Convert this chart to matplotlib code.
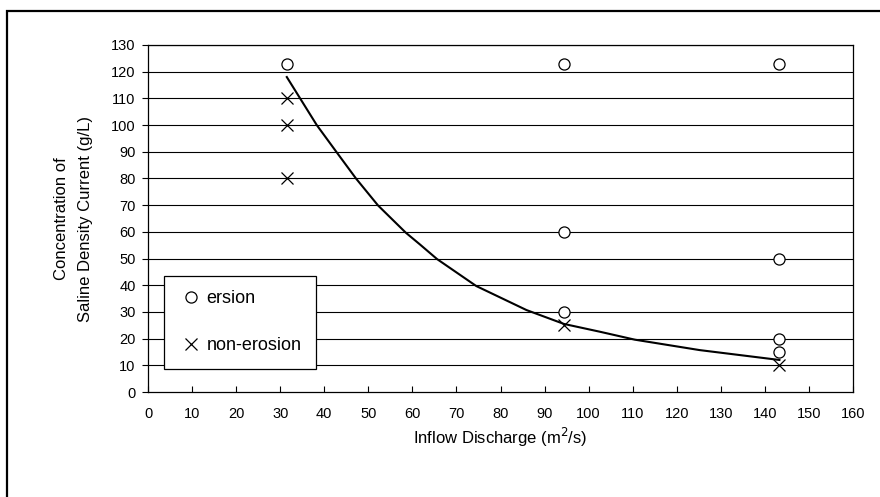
"""
    Saline density current: erosion / non-erosion vs inflow discharge.
"""
import matplotlib
matplotlib.use('Agg')
import matplotlib.pyplot as plt
from matplotlib.patches import Rectangle

plt.rcParams['font.family'] = ['Liberation Sans', 'DejaVu Sans']

# erosion points (open circles)
erosion_q = [31.5, 94.3, 94.3, 94.3, 143.3, 143.3, 143.3, 143.3]
erosion_c = [123, 123, 60, 30, 123, 50, 20, 15]

# non-erosion points (crosses)
nonerosion_q = [31.5, 31.5, 31.5, 94.3, 143.3]
nonerosion_c = [110, 100, 80, 25, 10]

# boundary curve
curve_q = [31.5, 38.3, 42.6, 47.2, 52.2, 58.5, 61.7, 65.6, 74.5, 85.9,
           94.4, 102.5, 110.5, 125.2, 143.3]
curve_c = [118, 100, 90.3, 80, 69.9, 59.7, 55.3, 49.8, 39.7, 30.7,
           25.5, 22.6, 19.6, 15.7, 12.0]

x_ticks = list(range(0, 161, 10))
y_ticks = list(range(0, 131, 10))

W, H = 880, 497
fig = plt.figure(figsize=(W / 100, H / 100), dpi=100)
ax = fig.add_axes([148 / W, 1 - 392 / H, (853 - 148) / W, (392 - 45) / H])

# outer frame (only left and top edges show)
fig.add_artist(Rectangle((7 / W, -0.2), 2, 1.2 - 11 / H, transform=fig.transFigure,
                         fill=False, lw=1.6, ec='black'))

for yv in y_ticks[1:]:
    ax.axhline(yv, color='black', lw=0.8, zorder=1)

ax.plot(curve_q, curve_c, color='black', lw=1.5, zorder=2)
ax.plot(erosion_q, erosion_c, 'o', mfc='white', mec='black', ms=8, mew=0.9,
        ls='none', label='ersion', zorder=3)
ax.plot(nonerosion_q, nonerosion_c, 'x', color='black', ms=9, mew=0.9,
        ls='none', label='non-erosion', zorder=3)

ax.set_xlim(0, 160)
ax.set_ylim(0, 130)
ax.set_xticks(x_ticks)
ax.set_yticks(y_ticks)
ax.tick_params(axis='x', direction='in', length=4, pad=11, labelsize=10.5)
ax.tick_params(axis='y', direction='out', length=4, pad=5, labelsize=10.5)
for s in ax.spines.values():
    s.set_linewidth(0.9)

ax.set_xlabel('Inflow Discharge (m$^2$/s)', fontsize=12, labelpad=3)
ax.set_ylabel('Concentration of\nSaline Density Current (g/L)', fontsize=12,
              labelpad=13, linespacing=1.7)

leg = ax.legend(loc='upper left', bbox_to_anchor=(164 / W, 1 - 276 / H),
                bbox_transform=fig.transFigure, borderaxespad=0,
                fontsize=13, frameon=True, fancybox=False, framealpha=1,
                edgecolor='black', borderpad=0.8, handlelength=1.4,
                handletextpad=0.15, labelspacing=1.65)
leg.get_frame().set_linewidth(0.9)
leg.set_zorder(5)

fig.savefig('out.png', dpi=100)
